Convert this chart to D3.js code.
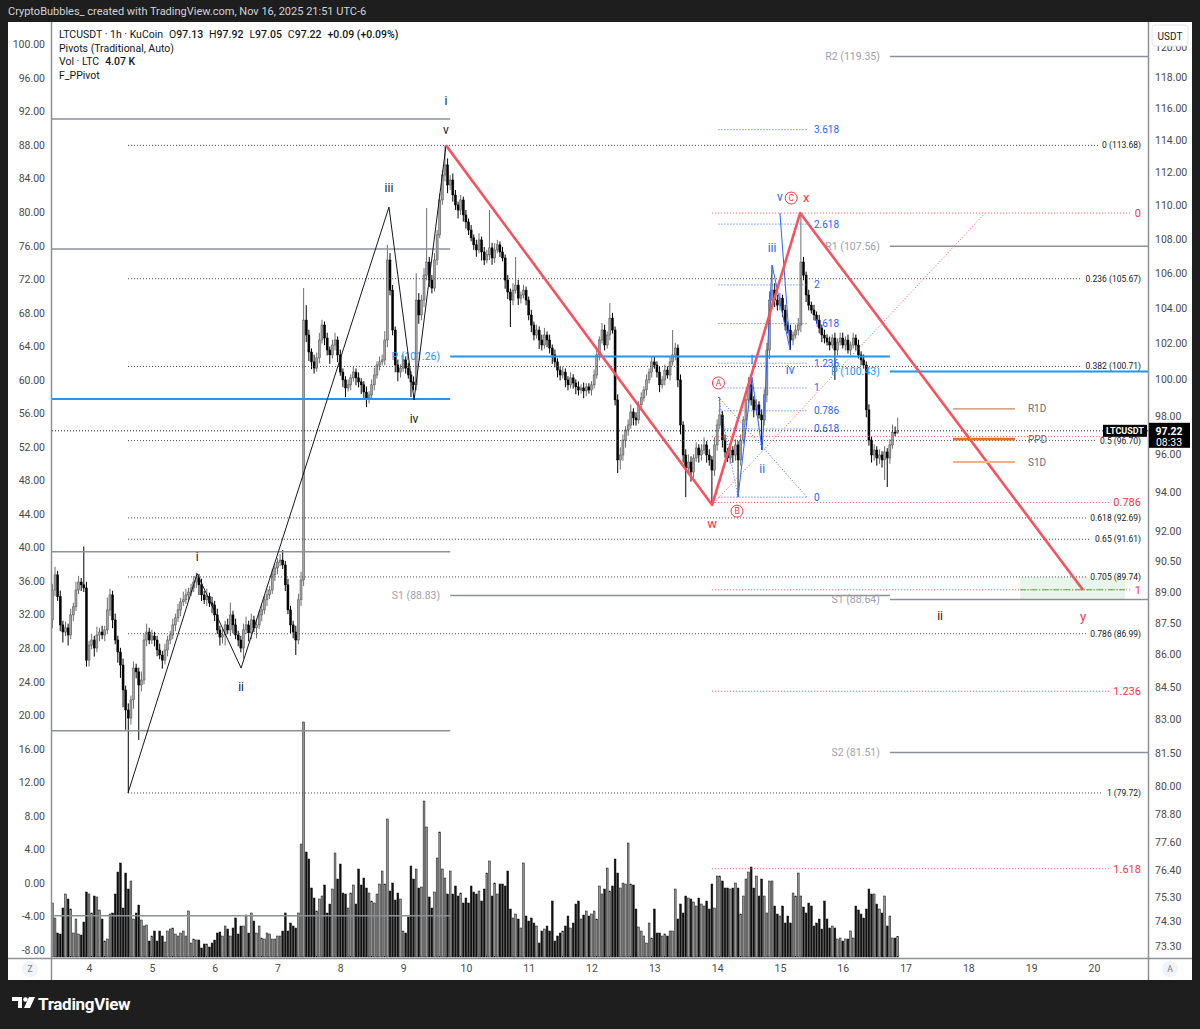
<!DOCTYPE html>
<html>
<head>
<meta charset="utf-8">
<title>LTCUSDT 1h</title>
<script src="https://cdn.jsdelivr.net/npm/d3@7/dist/d3.min.js"></script>
<style>
  html, body { margin: 0; padding: 0; background: #1e1e1e; }
  svg { display: block; font-family: Roboto, "Liberation Sans", sans-serif; }
</style>
</head>
<body>
<svg id="chart" width="1200" height="1029"></svg>
<script>
// hourly candles, Nov 3 10:00 -> Nov 16 21:00 (one row per day)
const firstOpen = 87.65;
const closes = [
  89.10, 89.84, 88.77, 87.41, 87.07, 87.27, 86.93, 87.89, 88.28, 89.10, 89.49, 89.35, 89.20, 85.74,
  86.45, 86.69, 86.31, 86.93, 87.07, 86.93, 87.17, 88.13, 88.86, 87.65, 86.69, 86.12, 85.51, 84.35, 83.43, 83.06, 83.89, 85.37, 85.19, 84.58, 84.81, 86.69, 87.07, 86.69,
  86.88, 86.69, 86.22, 85.98, 85.74, 86.22, 86.69, 86.93, 87.41, 87.75, 88.13, 88.52, 88.62, 88.86, 89.00, 89.20, 89.49, 89.69, 89.35, 88.86, 88.62, 88.77, 88.47, 88.37,
  87.89, 87.17, 86.83, 86.93, 87.41, 87.17, 87.89, 87.41, 86.93, 86.69, 86.31, 87.17, 87.41, 87.03, 87.65, 87.27, 87.41, 87.89, 88.13, 88.62, 88.86, 89.10, 89.84, 90.18,
  90.47, 90.57, 90.33, 89.35, 88.13, 87.41, 87.07, 86.69, 88.62, 89.59, 103.30, 102.46, 101.51, 100.96, 100.62, 101.18, 102.18, 103.02, 102.29, 101.62, 101.35, 101.90, 102.18, 101.35,
  100.40, 99.97, 99.53, 99.70, 100.08, 100.40, 100.08, 99.86, 99.70, 99.31, 98.99, 99.15, 99.70, 100.24, 100.79, 100.96, 101.07, 102.18, 106.76, 105.01, 102.74, 100.79, 100.40, 100.62,
  101.07, 100.62, 100.24, 99.86, 99.70, 104.44, 103.59, 104.44, 105.88, 106.64, 105.59, 105.13, 106.76, 108.24, 110.33, 111.85, 112.47, 111.24, 111.54, 110.63, 110.03, 109.72, 110.33, 109.43,
  109.01, 108.53, 108.06, 107.65, 107.35, 107.94, 107.23, 106.76, 107.06, 107.47, 106.88, 107.35, 107.65, 107.23, 106.88, 105.59, 104.90, 104.44, 105.01, 105.30, 104.55, 104.73, 105.01, 104.44,
  103.59, 103.02, 102.46, 102.74, 102.18, 101.90, 102.46, 102.18, 101.73, 101.35, 100.96, 100.51, 100.24, 100.40, 99.97, 99.70, 100.08, 99.80, 99.59, 99.42, 99.53, 99.37, 99.59, 99.42,
  99.70, 100.24, 101.35, 102.18, 102.74, 101.90, 102.46, 103.41, 102.74, 98.88, 95.68, 95.94, 96.73, 97.26, 97.53, 98.23, 97.91, 97.80, 98.61, 98.99, 99.42, 99.97, 100.40, 100.96,
  100.79, 100.40, 99.70, 99.97, 100.51, 100.24, 100.96, 101.35, 101.73, 99.97, 97.53, 95.94, 95.26, 95.57, 95.05, 95.78, 96.31, 95.94, 96.20, 96.47, 95.94, 95.68, 95.15, 96.47,
  97.53, 98.07, 96.73, 96.10, 95.78, 96.20, 95.94, 96.47, 95.68, 96.73, 97.80, 98.88, 99.70, 98.88, 98.34, 98.61, 98.07, 97.80, 99.15, 101.62, 104.44, 105.01, 104.44, 104.15,
  104.55, 103.87, 103.02, 102.74, 102.18, 102.46, 102.74, 103.02, 106.64, 105.88, 104.73, 104.15, 103.87, 103.59, 103.30, 102.85, 102.46, 102.29, 102.07, 101.90, 102.29, 101.62, 102.07, 102.29,
  101.90, 102.18, 101.62, 101.90, 102.29, 101.90, 101.35, 101.07, 100.79, 98.34, 96.73, 95.94, 96.20, 95.78, 95.94, 95.68, 96.10, 95.78, 96.47, 97.15, 97.13, 97.22
];
// wick length above the body / below the body
const wickUp = [
  0.3,0.4,0.2,0.3,0.2,0.3,0.2,0.3,0.2,0.4,0.3,0.2,1.9,0.3,
  0.2,0.3,0.2,0.4,0.2,0.3,0.2,0.6,0.3,0.2,0.3,0.2,0.2,0.3,0.2,0.3,0.2,0.3,0.2,0.2,0.4,0.3,0.4,0.2,
  0.3,0.2,0.2,0.3,0.2,0.3,0.2,0.2,0.3,0.2,0.3,0.2,0.4,0.3,0.2,0.2,0.3,0.25,0.2,0.3,0.2,0.4,0.2,0.3,
  0.2,0.3,0.2,0.3,0.2,0.3,0.6,0.2,0.3,0.2,0.2,0.3,0.4,0.2,0.3,0.2,0.3,0.2,0.3,0.2,0.3,0.2,0.3,0.2,
  0.2,0.3,0.5,0.2,0.3,0.2,0.2,0.3,0.3,0.4,1.83,0.85,0.3,0.2,0.4,0.3,0.4,0.3,0.2,0.3,0.2,0.3,0.4,0.2,
  0.3,0.2,0.2,0.3,0.2,0.3,0.2,0.3,0.2,0.2,0.3,0.2,0.3,0.4,0.2,0.3,0.3,0.5,0.89,0.4,0.3,0.2,0.3,0.2,
  0.3,0.2,0.3,0.2,0.3,1.55,0.4,0.3,0.4,3.2,0.3,0.3,0.4,0.3,0.4,0.3,1.21,0.4,0.3,0.4,0.3,0.2,0.3,0.2,
  0.3,0.2,0.3,0.2,0.3,0.4,0.2,0.3,0.3,2.25,0.3,0.4,0.3,0.2,0.3,0.2,0.3,0.2,0.4,1.64,0.3,0.2,0.3,0.2,
  0.2,0.3,0.2,0.3,0.2,0.3,0.4,0.2,0.3,0.2,0.3,0.2,0.2,0.3,0.2,0.2,0.3,0.2,0.2,0.3,0.2,0.3,0.2,0.2,
  0.2,0.3,0.3,0.2,0.4,0.3,0.2,0.86,0.3,0.2,0.3,0.4,0.3,0.2,0.3,0.4,0.2,0.3,0.2,0.3,0.2,0.3,0.2,0.3,
  0.3,0.2,0.3,0.2,0.3,0.2,0.3,1.39,0.3,0.2,0.3,0.2,0.3,0.4,0.3,0.2,0.3,0.2,0.3,0.4,0.2,0.3,0.2,0.4,
  0.3,0.97,0.2,0.3,0.2,0.3,0.2,0.3,0.2,0.3,0.2,0.3,0.43,0.3,0.2,0.3,0.2,0.3,0.3,0.4,0.5,1.45,0.4,0.3,
  0.3,0.2,0.3,0.2,0.3,0.2,0.3,0.4,2.9,0.3,0.2,0.3,0.2,0.3,0.2,0.3,0.2,0.3,0.2,0.3,0.2,0.3,0.2,0.3,
  0.3,0.2,0.3,0.2,0.3,0.2,0.3,0.2,0.3,0.2,0.3,0.2,0.3,0.2,0.3,0.2,0.3,0.2,0.3,0.4,0.3,0.70
];
const wickDn = [
  0.4,0.3,0.2,0.3,0.5,0.2,0.5,0.2,0.3,0.2,0.2,0.3,0.2,0.3,
  0.3,0.2,0.4,0.2,0.3,0.2,0.3,0.2,0.3,0.4,0.2,0.5,0.6,0.8,0.9,3.34,0.3,0.4,0.3,2.51,0.3,0.2,0.3,0.2,
  0.2,0.3,0.3,0.2,0.4,0.2,0.3,0.2,0.2,0.3,0.2,0.3,0.2,0.2,0.3,0.2,0.2,0.3,0.5,0.3,0.2,0.3,0.2,0.4,
  0.3,0.2,0.4,0.3,0.5,0.2,0.3,0.4,0.2,0.3,0.2,0.5,0.2,0.4,0.3,0.2,0.5,0.2,0.3,0.2,0.3,0.2,0.2,0.3,
  0.3,0.2,0.2,0.3,0.2,0.4,0.3,0.71,0.2,0.3,0.3,0.4,0.5,0.4,0.3,0.2,0.3,0.2,0.4,0.3,0.5,0.2,0.3,0.4,
  0.2,0.4,0.5,0.2,0.3,0.2,0.4,0.3,0.5,0.4,0.5,0.3,0.2,0.3,0.2,0.3,0.2,0.3,0.4,0.3,0.3,0.4,0.5,0.3,
  0.2,0.3,0.2,0.82,0.3,0.3,0.5,0.3,0.4,0.3,0.4,0.3,0.2,0.3,0.2,0.3,0.4,0.5,0.3,0.4,0.3,0.5,0.3,0.4,
  0.4,0.3,0.2,0.3,0.4,0.2,0.5,0.3,0.2,0.3,0.4,0.3,0.2,0.3,0.2,0.5,0.4,1.53,0.3,0.2,0.4,0.3,0.2,0.3,
  0.3,0.4,0.3,0.2,0.5,0.3,0.2,0.4,0.3,0.5,0.3,0.4,0.3,0.2,0.4,0.3,0.2,0.3,0.4,0.3,0.2,0.4,0.3,0.2,
  0.3,0.2,0.2,0.3,0.2,0.3,0.2,0.3,0.2,0.3,0.69,0.5,0.3,0.4,0.3,0.2,0.4,0.3,0.2,0.3,0.2,0.3,0.2,0.3,
  0.2,0.3,0.4,0.2,0.3,0.2,0.3,0.2,0.3,0.4,0.5,0.4,1.51,0.3,0.5,0.3,0.2,0.4,0.3,0.2,0.4,0.3,1.8,0.3,
  0.3,0.2,0.4,0.3,0.2,0.3,0.4,0.3,1.93,0.3,0.2,0.3,0.2,0.3,0.4,0.3,0.2,1.6,0.3,0.4,0.5,0.3,0.4,0.3,
  0.3,0.4,0.3,0.2,0.56,0.3,0.2,0.3,0.4,0.3,0.4,0.3,0.2,0.3,0.2,0.3,0.4,0.3,0.2,0.3,0.2,1.65,0.3,0.2,
  0.2,0.3,0.2,0.3,0.2,0.3,0.2,0.3,0.2,0.4,0.3,0.4,0.3,0.4,0.3,0.4,1.05,1.51,0.3,0.2,0.2,0.08
];
// volume, thousands of LTC
const volume = [
  10.8,7.8,4.8,4.6,9.8,12.6,11.6,9.6,4.8,7.6,4.6,4.4,7.0,13.0,
  12.6,8.8,12.2,12.0,9.4,7.6,3.2,3.6,8.6,8.8,12.6,17.0,18.8,9.8,16.8,13.6,15.2,7.6,8.8,10.4,7.4,6.2,6.4,3.2,
  4.2,5.2,3.2,5.2,4.2,3.0,5.2,5.6,5.8,4.6,4.2,4.8,5.2,4.2,9.2,2.8,3.6,3.4,3.4,1.8,2.6,2.6,2.0,2.8,
  3.4,4.8,5.0,4.2,6.2,5.6,4.2,5.8,7.8,4.6,6.2,6.2,8.4,4.8,8.8,7.2,4.8,6.2,3.8,3.6,4.8,4.6,3.6,3.6,
  4.2,4.2,5.2,8.8,5.2,6.8,6.2,5.8,8.8,22.6,47.0,21.0,19.6,13.8,11.8,9.2,11.6,12.2,14.4,8.8,10.6,13.6,20.8,15.6,
  18.6,12.8,12.6,9.8,12.8,14.4,10.6,17.6,14.4,15.8,13.8,12.8,11.2,10.8,12.6,14.6,17.2,14.6,27.6,13.2,14.8,11.4,12.8,11.6,
  5.2,4.8,8.0,18.2,15.6,17.6,13.8,14.0,31.2,26.0,12.0,9.8,13.0,19.8,25.0,17.6,15.8,12.6,17.2,12.6,14.2,12.2,12.8,10.8,
  11.8,10.8,14.2,13.0,12.6,13.2,11.2,13.6,16.8,19.2,12.2,14.8,12.6,14.6,14.6,14.2,17.2,9.6,7.8,8.6,7.6,5.8,18.8,8.2,
  7.2,7.8,6.8,6.2,2.8,5.2,5.6,6.2,5.2,11.2,3.2,4.2,4.8,5.2,6.2,8.2,5.8,6.8,10.6,11.2,7.6,8.4,9.2,8.2,
  8.6,9.2,7.6,14.2,12.6,13.6,17.8,13.2,14.2,19.6,16.8,13.8,14.8,14.6,22.8,14.6,14.4,9.6,6.0,5.2,4.2,2.8,6.8,3.8,
  9.6,4.8,4.8,4.2,4.6,4.2,5.2,5.2,13.6,7.6,10.6,8.8,12.2,11.8,11.6,11.0,10.2,11.8,10.6,10.2,11.2,9.6,14.6,9.8,
  16.2,16.2,15.2,13.8,13.8,13.6,13.8,14.8,13.8,8.6,12.2,15.6,17.0,18.0,13.8,16.2,12.2,15.6,12.2,8.8,15.2,15.2,10.2,8.6,
  8.2,10.2,6.8,8.2,6.8,12.8,12.2,16.8,12.2,10.0,8.8,10.8,10.2,6.2,6.8,7.6,5.6,11.2,7.6,5.8,6.2,5.8,3.6,3.8,
  3.2,3.6,3.6,5.2,3.8,10.2,9.4,8.6,7.8,9.6,13.6,12.6,12.6,10.6,9.6,8.8,12.2,6.2,8.2,3.8,3.8,4.07
];

// axes
const dayTicks = [4, 5, 6, 7, 8, 9, 10, 11, 12, 13, 14, 15, 16, 17, 18, 19, 20];
const priceTicks = [120, 118, 116, 114, 112, 110, 108, 106, 104, 102, 100, 98, 96, 94, 92, 90.5, 89, 87.5, 86, 84.5, 83, 81.5, 80, 78.8, 77.6, 76.4, 75.3, 74.3, 73.3];
const leftTicks = [100, 96, 92, 88, 84, 80, 76, 72, 68, 64, 60, 56, 52, 48, 44, 40, 36, 32, 28, 24, 20, 16, 12, 8, 4, 0, -4, -8];

// weekly pivots (Traditional). hours are counted from the first candle
const pivotStart = [-30, 152, 320];
const pivotEnd = [152, 320, 488];
const pivotR2 = [115.33, 135.22, 119.35];
const pivotR1 = [107.41, 122.80, 107.56];
const pivotP = [98.93, 101.26, 100.43];
const pivotS1 = [90.98, 88.83, 88.64];
const pivotS2 = [82.48, 67.30, 81.51];
const pivotS3 = [74.53, 54.88, 69.72];

// fib retracement 79.72 -> 113.68
const fibRetStart = 28.9;
const fibRetLevels = ["0", "0.236", "0.382", "0.5", "0.618", "0.65", "0.705", "0.786", "1"];
const fibRetPrices = [113.68, 105.67, 100.71, 96.70, 92.69, 91.61, 89.74, 86.99, 79.72];

// red trend-based extension
const redExtStart = 252.1;
const redExtLevels = ["0", "", "0.786", "1", "1.236", "1.618"];
const redExtPrices = [109.54, 96.91, 93.48, 89.11, 84.29, 76.48];

// blue extension on the ABC leg
const blueExtRange = [254.5, 288.3];
const blueExtLevels = ["0", "0.618", "0.786", "1", "1.236", "1.618", "2", "2.618", "3.618"];
const blueExtPrices = [93.75, 97.32, 98.29, 99.53, 100.89, 103.10, 105.31, 108.88, 114.66];

// wave counts [hour, price]
const impulseWave = [[28.9, 79.72], [55.3, 89.90], [72.1, 85.37], [128.6, 109.90], [138.2, 98.88], [150.4, 113.68]];
const impulseNames = ["", "i", "ii", "iii", "iv", "v"];
const impulseOffsets = [0, -17, 19, -19, 19, -16];
const wxyWave = [[150.4, 113.68], [252.1, 93.35], [285.7, 109.54], [393.8, 89.10]];
const blueWave = [[262, 93.75], [267.3, 100.13], [271.2, 96.20], [275, 106.46], [281.9, 101.62], [278, 109.54]];
const blueNames = ["", "i", "ii", "iii", "iv", "v"];
const blueOffsets = [0, -17, 19, -17, 20, -16];

// daily pivots (F_PPivot)
const dailyRange = [344.1, 367.8];
const dailyNames = ["R1D", "PPD", "S1D"];
const dailyPrices = [98.40, 96.78, 95.57];
const dailyColors = ["#c98a5e", "#e8711a", "#f4b183"];
const dailyWidths = [1.2, 2.6, 2];

const targetBox = { h0: 369.8, h1: 409.9, top: 89.74, bottom: 88.64, line: 89.11 };
const lastPrice = 97.22;

// ---- scales ----
const x = d3.scaleLinear().domain([0, 398]).range([52.4, 1094]);
const y = d3.scaleLog().domain([73.3, 118]).range([946.2, 77.3]);
const yLeft = d3.scaleLinear().domain([-8, 100]).range([950, 44.4]);
const yVol = d3.scaleLinear().domain([0, 47]).range([957, 722]);

const candles = closes.map((c, i) => {
  const o = i === 0 ? firstOpen : closes[i - 1];
  return { i, o, c, h: Math.max(o, c) + wickUp[i], l: Math.min(o, c) - wickDn[i], v: volume[i] };
});

const svg = d3.select("#chart");
const RED = "#f7525f", RED_TXT = "#f23645", BLUE = "#2962ff", GRID = "#8d9099";

svg.append("rect").attr("width", 1200).attr("height", 1029).attr("fill", "#1e1e1e");
svg.append("text").attr("x", 8).attr("y", 15).attr("fill", "#d1d4dc").attr("font-size", 11)
  .text("CryptoBubbles_ created with TradingView.com, Nov 16, 2025 21:51 UTC-6");
svg.append("rect").attr("x", 8).attr("y", 22).attr("width", 1184).attr("height", 958).attr("fill", "#fff");

svg.append("defs").append("clipPath").attr("id", "plotClip").append("rect")
  .attr("x", 52).attr("y", 22).attr("width", 1096).attr("height", 936);
const plot = svg.append("g").attr("clip-path", "url(#plotClip)");

// volume
plot.append("g").selectAll("rect").data(candles).join("rect")
  .attr("x", d => x(d.i) - 0.9).attr("width", 1.8)
  .attr("y", d => yVol(d.v)).attr("height", d => yVol(0) - yVol(d.v))
  .attr("fill", d => d.c >= d.o ? "#959595" : "#111")
  .attr("stroke", "#111").attr("stroke-width", 0.5);

// candles
const cg = plot.append("g");
cg.selectAll("line").data(candles).join("line")
  .attr("x1", d => x(d.i)).attr("x2", d => x(d.i))
  .attr("y1", d => y(d.h)).attr("y2", d => y(d.l))
  .attr("stroke", d => d.c >= d.o ? "#6e6e6e" : "#000").attr("stroke-width", 1);
cg.selectAll("rect").data(candles).join("rect")
  .attr("x", d => x(d.i) - 1).attr("width", 2)
  .attr("y", d => y(Math.max(d.o, d.c)))
  .attr("height", d => Math.max(1, Math.abs(y(d.o) - y(d.c))))
  .attr("fill", d => d.c >= d.o ? "#a3a3a3" : "#000")
  .attr("stroke", d => d.c >= d.o ? "#4d4d4d" : "#000").attr("stroke-width", 0.5);

// weekly pivots; labels sit left of each period start, only where they are on screen
const pivotRows = [["R2", pivotR2], ["R1", pivotR1], ["P", pivotP], ["S1", pivotS1], ["S2", pivotS2], ["S3", pivotS3]];
const pg = plot.append("g");
pivotStart.forEach((s, k) => {
  pivotRows.forEach(([name, vals]) => {
    const v = vals[k];
    const isP = name === "P";
    pg.append("line")
      .attr("x1", x(s)).attr("x2", x(pivotEnd[k])).attr("y1", y(v)).attr("y2", y(v))
      .attr("stroke", isP ? "#2196f3" : GRID).attr("stroke-width", isP ? 2 : 1.5);
    const lx = x(s) - 10, ly = y(v);
    if (lx < 120 || ly < 30 || ly > 950) return;
    pg.append("text").attr("x", lx).attr("y", ly).attr("dy", "0.35em")
      .attr("text-anchor", "end").attr("font-size", 10.5)
      .attr("fill", isP ? "#2196f3" : "#9ea1a9")
      .text(`${name} (${v.toFixed(2)})`);
  });
});

// fib retracement
const fg = plot.append("g");
fibRetLevels.forEach((lvl, k) => {
  const p = fibRetPrices[k];
  const t = fg.append("text").attr("x", 1141).attr("y", y(p)).attr("dy", "0.35em")
    .attr("text-anchor", "end").attr("font-size", 8.5).attr("fill", "#131722")
    .text(`${lvl} (${p.toFixed(2)})`);
  const w = t.node().getComputedTextLength();
  fg.append("line").attr("x1", x(fibRetStart)).attr("x2", 1141 - w - 4)
    .attr("y1", y(p)).attr("y2", y(p))
    .attr("stroke", "#444").attr("stroke-width", 1).attr("stroke-dasharray", "1,2");
});

// red extension
redExtLevels.forEach((lvl, k) => {
  const p = redExtPrices[k];
  let w = 0;
  if (lvl) {
    const t = fg.append("text").attr("x", 1141).attr("y", y(p)).attr("dy", "0.35em")
      .attr("text-anchor", "end").attr("font-size", 11).attr("fill", RED_TXT).text(lvl);
    w = t.node().getComputedTextLength();
  }
  fg.append("line").attr("x1", x(redExtStart)).attr("x2", 1141 - w - 4)
    .attr("y1", y(p)).attr("y2", y(p))
    .attr("stroke", RED).attr("stroke-width", 1).attr("stroke-dasharray", "1,2");
});

// blue extension
blueExtLevels.forEach((lvl, k) => {
  const p = blueExtPrices[k];
  fg.append("line").attr("x1", x(blueExtRange[0])).attr("x2", x(blueExtRange[1]))
    .attr("y1", y(p)).attr("y2", y(p))
    .attr("stroke", BLUE).attr("stroke-width", 1).attr("stroke-dasharray", "1,2");
  fg.append("text").attr("x", x(blueExtRange[1]) + 7).attr("y", y(p)).attr("dy", "0.35em")
    .attr("font-size", 10).attr("fill", BLUE).text(lvl);
});

// last price line
plot.append("line").attr("x1", 52).attr("x2", 1148).attr("y1", y(lastPrice)).attr("y2", y(lastPrice))
  .attr("stroke", "#131722").attr("stroke-width", 1).attr("stroke-dasharray", "1,2");

// target box
plot.append("rect").attr("x", x(targetBox.h0)).attr("width", x(targetBox.h1) - x(targetBox.h0))
  .attr("y", y(targetBox.top)).attr("height", y(targetBox.bottom) - y(targetBox.top))
  .attr("fill", "rgba(76,175,80,0.12)");
plot.append("line").attr("x1", x(targetBox.h0)).attr("x2", x(targetBox.h1))
  .attr("y1", y(targetBox.line)).attr("y2", y(targetBox.line))
  .attr("stroke", "#4caf50").attr("stroke-width", 1).attr("stroke-dasharray", "6,2,1,2");

// wave drawings
const line = d3.line().x(d => x(d[0])).y(d => y(d[1]));
const wg = plot.append("g").attr("fill", "none");
wg.append("path").attr("d", line([wxyWave[1], [356.4, 109.54]]))
  .attr("stroke", RED).attr("stroke-width", 1).attr("stroke-dasharray", "1,2");
wg.append("path").attr("d", line([[254.5, 99.04], [288.3, 93.75]]))
  .attr("stroke", BLUE).attr("stroke-width", 1).attr("stroke-dasharray", "1,2");
wg.append("path").attr("d", line([[254.5, 99.04], [262, 93.75]]))
  .attr("stroke", BLUE).attr("stroke-width", 1).attr("stroke-dasharray", "1,2");
wg.append("path").attr("d", line(impulseWave)).attr("stroke", "#131722").attr("stroke-width", 1);
wg.append("path").attr("d", line(blueWave)).attr("stroke", BLUE).attr("stroke-width", 1);
wg.append("path").attr("d", line(wxyWave)).attr("stroke", RED).attr("stroke-width", 2.6)
  .attr("stroke-linejoin", "round");

function waveLabel(h, p, txt, dy, color, size) {
  plot.append("text").attr("x", x(h)).attr("y", y(p) + dy).attr("dy", "0.35em")
    .attr("text-anchor", "middle").attr("font-size", size).attr("fill", color).text(txt);
}
impulseWave.forEach((d, k) => { if (impulseNames[k]) waveLabel(d[0], d[1], impulseNames[k], impulseOffsets[k], "#131722", 12); });
waveLabel(150.4, 113.68, "i", -45, "#131722", 12);
waveLabel(339.2, 87.85, "ii", 0, "#131722", 12);
blueWave.forEach((d, k) => { if (blueNames[k]) waveLabel(d[0], d[1], blueNames[k], blueOffsets[k], BLUE, 12); });
waveLabel(252.1, 93.35, "w", 19, RED_TXT, 13);
waveLabel(288, 109.54, "x", -16, RED_TXT, 13);
waveLabel(393.8, 89.10, "y", 26, RED_TXT, 13);

const circled = [["A", 254.5, 99.04, -14], ["B", 261.6, 93.75, 14], ["C", 282.3, 109.54, -15]];
circled.forEach(([t, h, p, dy]) => {
  plot.append("circle").attr("cx", x(h)).attr("cy", y(p) + dy).attr("r", 6)
    .attr("fill", "#fff").attr("stroke", RED_TXT).attr("stroke-width", 1);
  plot.append("text").attr("x", x(h)).attr("y", y(p) + dy).attr("dy", "0.35em")
    .attr("text-anchor", "middle").attr("font-size", 8.5).attr("fill", RED_TXT).text(t);
});

// daily pivots
dailyNames.forEach((n, k) => {
  plot.append("line").attr("x1", x(dailyRange[0])).attr("x2", x(dailyRange[1]))
    .attr("y1", y(dailyPrices[k])).attr("y2", y(dailyPrices[k]))
    .attr("stroke", dailyColors[k]).attr("stroke-width", dailyWidths[k]);
  plot.append("text").attr("x", x(dailyRange[1]) + 13).attr("y", y(dailyPrices[k])).attr("dy", "0.35em")
    .attr("font-size", 10).attr("fill", "#6a6d78").text(n);
});

// ---- axes ----
const frame = svg.append("g").attr("stroke", GRID).attr("stroke-width", 1.5);
frame.append("line").attr("x1", 51.5).attr("x2", 51.5).attr("y1", 22).attr("y2", 980);
frame.append("line").attr("x1", 1148.5).attr("x2", 1148.5).attr("y1", 22).attr("y2", 980);
frame.append("line").attr("x1", 8).attr("x2", 1192).attr("y1", 958.5).attr("y2", 958.5);

function styleAxis(g) {
  g.select(".domain").remove();
  g.selectAll("text").attr("fill", "#4a4a4a").attr("font-size", 10.5)
    .attr("font-family", "Roboto, 'Liberation Sans', sans-serif");
}
svg.append("g").attr("transform", "translate(45,0)")
  .call(d3.axisLeft(yLeft).tickValues(leftTicks).tickSize(0).tickPadding(0).tickFormat(d => d.toFixed(2)))
  .call(styleAxis);
svg.append("g").attr("transform", "translate(1155,0)")
  .call(d3.axisRight(y).tickValues(priceTicks).tickSize(0).tickPadding(0).tickFormat(d => d.toFixed(2)))
  .call(styleAxis);
svg.append("g").attr("transform", "translate(0,958)")
  .call(d3.axisBottom(x).tickValues(dayTicks.map(d => 14 + (d - 4) * 24)).tickSize(0).tickPadding(7)
    .tickFormat((v, i) => dayTicks[i]))
  .call(styleAxis);

// USDT badge
svg.append("rect").attr("x", 1152).attr("y", 25).attr("width", 36).attr("height", 21).attr("rx", 3)
  .attr("fill", "#fff").attr("stroke", "#e0e3eb");
svg.append("text").attr("x", 1170).attr("y", 36).attr("dy", "0.35em").attr("text-anchor", "middle")
  .attr("font-size", 10).attr("fill", "#131722").text("USDT");

// corner buttons
[["Z", 30], ["A", 1170]].forEach(([t, cx]) => {
  svg.append("circle").attr("cx", cx).attr("cy", 969).attr("r", 8).attr("fill", "#f0f3fa");
  svg.append("text").attr("x", cx).attr("y", 969).attr("dy", "0.35em").attr("text-anchor", "middle")
    .attr("font-size", 8.5).attr("fill", "#787b86").text(t);
});

// price tags
const py = y(lastPrice);
svg.append("rect").attr("x", 1103).attr("y", py - 6).attr("width", 44).attr("height", 12).attr("fill", "#000");
svg.append("text").attr("x", 1125).attr("y", py).attr("dy", "0.35em").attr("text-anchor", "middle")
  .attr("font-size", 9).attr("font-weight", "bold").attr("fill", "#fff").text("LTCUSDT");
svg.append("rect").attr("x", 1149).attr("y", py - 8).attr("width", 41).attr("height", 25).attr("fill", "#000");
svg.append("text").attr("x", 1169).attr("y", py + 1).attr("dy", "0.35em").attr("text-anchor", "middle")
  .attr("font-size", 10.5).attr("font-weight", "bold").attr("fill", "#fff").text(lastPrice.toFixed(2));
svg.append("text").attr("x", 1169).attr("y", py + 12).attr("dy", "0.35em").attr("text-anchor", "middle")
  .attr("font-size", 10.5).attr("fill", "#fff").text("08:33");

// legend
const legend = svg.append("g").attr("font-size", 10.5).attr("fill", "#131722");
const l1 = legend.append("text").attr("x", 59).attr("y", 38);
l1.append("tspan").text("LTCUSDT · 1h · KuCoin");
[["O", "97.13"], ["H", "97.92"], ["L", "97.05"], ["C", "97.22"]].forEach(([k, v]) => {
  l1.append("tspan").attr("dx", 6).text(k);
  l1.append("tspan").attr("font-weight", 500).text(v);
});
l1.append("tspan").attr("dx", 6).attr("font-weight", 500).text("+0.09 (+0.09%)");
legend.append("text").attr("x", 59).attr("y", 52).text("Pivots (Traditional, Auto)");
const l3 = legend.append("text").attr("x", 59).attr("y", 65);
l3.append("tspan").text("Vol · LTC");
l3.append("tspan").attr("dx", 6).attr("font-weight", 500).text("4.07 K");
legend.append("text").attr("x", 59).attr("y", 79).text("F_PPivot");

// footer logo
const logo = svg.append("g").attr("fill", "#fff");
logo.append("path").attr("d", "M12,997h10v11h-4v-7h-6z");
logo.append("circle").attr("cx", 25.5).attr("cy", 999.5).attr("r", 2.3);
logo.append("path").attr("d", "M29,997h6l-5,11h-6z");
logo.append("text").attr("x", 38).attr("y", 1010).attr("font-size", 17).attr("font-weight", "bold")
  .attr("letter-spacing", -0.3).text("TradingView");
</script>
</body>
</html>
